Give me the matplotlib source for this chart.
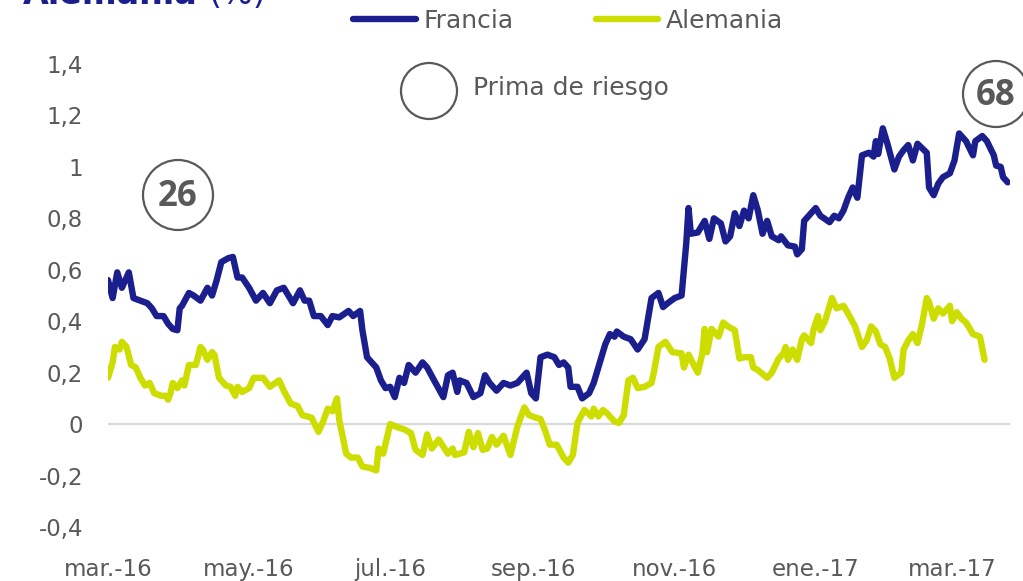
# module imports
import matplotlib
matplotlib.use("Agg")
import matplotlib.pyplot as plt
import numpy as np
import pandas as pd

# item imports
from matplotlib.patches import Ellipse
from matplotlib.ticker import FuncFormatter

# constants
W, H = 1023, 581
BLUE = "#1b1f8e"
GREEN = "#cedd00"
GREY = "#595959"
START = pd.Timestamp("2016-03-01")

# days since 1 March 2016 and spread (%) for France
fr_days = [0, 2, 4, 6, 9, 11, 14, 17, 19, 21, 24, 26, 28, 30, 31, 32, 35, 37, 40, 43,
           45, 47, 49, 52, 54, 56, 58, 61, 64, 67, 70, 73, 76, 80, 83, 85, 87, 89, 92, 95,
           97, 100, 104, 106, 109, 110, 112, 116, 118, 120, 122, 124, 126, 128, 130, 133, 136, 138, 141, 145,
           147, 149, 151, 152, 155, 158, 161, 163, 165, 168, 171, 174, 177, 181, 183, 185, 187, 190, 193, 195,
           197, 199, 200, 203, 205, 208, 210, 213, 215, 217, 219, 220, 223, 226, 229, 232, 235, 238, 240, 242,
           245, 248, 250, 251, 252, 255, 258, 260, 262, 265, 267, 269, 271, 273, 275, 277, 279, 281, 283, 285,
           287, 290, 291, 294, 297, 298, 300, 301, 304, 306, 308, 312, 314, 316, 318, 320, 322, 324, 326, 329,
           331, 332, 333, 335, 337, 340, 342, 344, 346, 348, 350, 354, 355, 357, 359, 361, 364, 366, 368, 371,
           374, 375, 378, 380, 383, 384, 386, 387, 389]
fr_vals = [0.56, 0.49, 0.59, 0.53, 0.59, 0.49, 0.48, 0.47, 0.45, 0.42, 0.42, 0.39, 0.37, 0.365, 0.45, 0.46, 0.51, 0.50, 0.48, 0.53,
           0.50, 0.56, 0.63, 0.645, 0.65, 0.57, 0.57, 0.53, 0.48, 0.51, 0.47, 0.52, 0.53, 0.47, 0.52, 0.48, 0.48, 0.42, 0.42, 0.385,
           0.42, 0.415, 0.44, 0.42, 0.44, 0.365, 0.26, 0.22, 0.17, 0.14, 0.145, 0.105, 0.18, 0.16, 0.23, 0.20, 0.24, 0.22, 0.17, 0.105,
           0.19, 0.20, 0.125, 0.17, 0.16, 0.105, 0.12, 0.19, 0.16, 0.13, 0.16, 0.15, 0.16, 0.20, 0.12, 0.10, 0.26, 0.27, 0.26, 0.23,
           0.24, 0.22, 0.145, 0.145, 0.10, 0.12, 0.16, 0.25, 0.31, 0.35, 0.34, 0.36, 0.34, 0.33, 0.29, 0.33, 0.49, 0.51, 0.455, 0.47,
           0.49, 0.50, 0.70, 0.84, 0.74, 0.745, 0.79, 0.72, 0.80, 0.78, 0.71, 0.73, 0.82, 0.77, 0.83, 0.80, 0.89, 0.83, 0.74, 0.79,
           0.73, 0.715, 0.73, 0.695, 0.69, 0.66, 0.68, 0.79, 0.82, 0.84, 0.81, 0.785, 0.81, 0.80, 0.83, 0.88, 0.92, 0.88, 1.045, 1.055,
           1.04, 1.10, 1.05, 1.15, 1.09, 0.99, 1.04, 1.065, 1.085, 1.025, 1.09, 1.055, 0.92, 0.89, 0.935, 0.96, 0.975, 1.025, 1.13, 1.10,
           1.045, 1.10, 1.12, 1.10, 1.045, 1.005, 1.00, 0.96, 0.94]

# days since 1 March 2016 and spread (%) for Germany
de_days = [0, 2, 3, 5, 6, 8, 10, 12, 14, 16, 18, 20, 23, 25, 26, 27, 28, 30, 32, 33,
           35, 38, 40, 41, 43, 45, 46, 48, 51, 53, 55, 56, 58, 61, 63, 65, 67, 70, 74, 76,
           79, 82, 84, 88, 91, 93, 95, 97, 99, 100, 103, 105, 108, 110, 113, 116, 117, 119, 122, 126,
           128, 131, 133, 136, 138, 140, 143, 147, 149, 150, 154, 156, 158, 160, 162, 164, 166, 168, 171, 174,
           177, 180, 182, 185, 187, 189, 191, 194, 197, 199, 201, 203, 206, 209, 210, 212, 214, 216, 219, 221,
           223, 225, 227, 229, 232, 235, 236, 238, 241, 244, 248, 249, 251, 255, 257, 258, 259, 261, 264, 266,
           268, 271, 273, 275, 278, 279, 281, 285, 287, 290, 292, 293, 294, 296, 298, 300, 301, 304, 305, 307,
           308, 310, 313, 315, 318, 320, 323, 326, 328, 330, 332, 334, 336, 338, 340, 343, 344, 346, 348, 350,
           352, 354, 355, 357, 359, 361, 364, 365, 367, 369, 371, 374, 377, 379]
de_vals = [0.18, 0.24, 0.30, 0.29, 0.32, 0.30, 0.23, 0.22, 0.18, 0.15, 0.16, 0.12, 0.11, 0.11, 0.095, 0.12, 0.16, 0.14, 0.17, 0.15,
           0.23, 0.23, 0.30, 0.29, 0.25, 0.28, 0.27, 0.18, 0.15, 0.145, 0.11, 0.145, 0.125, 0.14, 0.18, 0.18, 0.18, 0.145, 0.17, 0.13,
           0.08, 0.07, 0.035, 0.025, -0.03, 0.01, 0.06, 0.05, 0.10, 0.015, -0.115, -0.13, -0.13, -0.165, -0.17, -0.18, -0.095, -0.115, 0.0, -0.015,
           -0.02, -0.035, -0.10, -0.12, -0.04, -0.095, -0.06, -0.115, -0.095, -0.12, -0.11, -0.03, -0.09, -0.035, -0.10, -0.095, -0.05, -0.08, -0.045, -0.12,
           -0.01, 0.065, 0.035, 0.025, 0.02, -0.025, -0.08, -0.08, -0.13, -0.15, -0.12, 0.005, 0.055, 0.03, 0.06, 0.03, 0.055, 0.04, 0.01, 0.005,
           0.035, 0.17, 0.18, 0.14, 0.145, 0.16, 0.20, 0.30, 0.32, 0.28, 0.275, 0.22, 0.27, 0.20, 0.275, 0.37, 0.28, 0.37, 0.34, 0.395,
           0.38, 0.365, 0.255, 0.26, 0.26, 0.22, 0.21, 0.18, 0.20, 0.255, 0.275, 0.30, 0.25, 0.29, 0.25, 0.33, 0.345, 0.315, 0.365, 0.42,
           0.365, 0.40, 0.49, 0.45, 0.46, 0.43, 0.38, 0.30, 0.325, 0.38, 0.36, 0.31, 0.30, 0.255, 0.18, 0.20, 0.29, 0.325, 0.35, 0.315,
           0.39, 0.49, 0.475, 0.41, 0.45, 0.43, 0.46, 0.40, 0.435, 0.41, 0.395, 0.35, 0.34, 0.25]

month_ticks = ["2016-03-01", "2016-05-01", "2016-07-01", "2016-09-01",
               "2016-11-01", "2017-01-01", "2017-03-01"]
month_labels = ["mar.-16", "may.-16", "jul.-16", "sep.-16",
                "nov.-16", "ene.-17", "mar.-17"]
y_ticks = [-0.4, -0.2, 0, 0.2, 0.4, 0.6, 0.8, 1.0, 1.2, 1.4]


def circle(fig, cx, cy, r):
    # circle given in pixels, drawn in figure coords
    e = Ellipse((cx / W, 1 - cy / H), 2 * r / W, 2 * r / H,
                transform=fig.transFigure, fill=False,
                edgecolor=GREY, linewidth=1.6, clip_on=False)
    fig.add_artist(e)


if __name__ == "__main__":
    plt.rcParams["font.family"] = ["DejaVu Sans"]

    fr_dates = START + pd.to_timedelta(fr_days, unit="D")
    de_dates = START + pd.to_timedelta(de_days, unit="D")

    fig = plt.figure(figsize=(W / 100, H / 100), dpi=100)
    ax = fig.add_axes([108 / W, 1 - 527 / H, (1010 - 108) / W, (527 - 64) / H])

    # zero line
    ax.axhline(0, color="#d9d9d9", linewidth=1.6, zorder=1)

    # series
    ax.plot(fr_dates, fr_vals, color=BLUE, linewidth=4.6,
            solid_joinstyle="round", solid_capstyle="round", label="Francia", zorder=3)
    ax.plot(de_dates, de_vals, color=GREEN, linewidth=4.6,
            solid_joinstyle="round", solid_capstyle="round", label="Alemania", zorder=2)

    # axes
    ax.set_ylim(-0.4, 1.4)
    ax.set_xlim(START, START + pd.Timedelta(days=390))
    ax.set_yticks(y_ticks)
    ax.yaxis.set_major_formatter(FuncFormatter(lambda v, p: f"{round(v, 1):g}".replace(".", ",")))
    ax.set_xticks(pd.to_datetime(month_ticks))
    ax.set_xticklabels(month_labels)
    ax.tick_params(axis="both", length=0, labelsize=16.5, labelcolor=GREY)
    ax.tick_params(axis="y", pad=18)
    ax.tick_params(axis="x", pad=22)
    for s in ax.spines.values():
        s.set_visible(False)

    # legend
    fig.legend(loc="center left", bbox_to_anchor=(353 / W, 1 - 21 / H), ncol=2,
               frameon=False, fontsize=18, labelcolor=GREY, handlelength=2.5,
               handletextpad=0.3, columnspacing=3.3, borderpad=0, borderaxespad=0)

    # title, cut off by the top edge as in the source
    fig.text(23 / W, 1 - 4 / H, "Alemania", fontsize=24, fontweight="bold",
             color=BLUE, va="baseline", ha="left")
    fig.text(208 / W, 1 - 4 / H, "(%)", fontsize=24, color=BLUE,
             va="baseline", ha="left")

    # circled annotations
    circle(fig, 429, 91, 28)
    fig.text(473 / W, 1 - 88 / H, "Prima de riesgo", fontsize=18, color=GREY,
             va="center", ha="left")
    circle(fig, 178, 195, 35)
    fig.text(178 / W, 1 - 197 / H, "26", fontsize=25, fontweight="bold",
             family="Open Sans", color=GREY, va="center", ha="center")
    circle(fig, 996, 94, 33)
    fig.text(996 / W, 1 - 96 / H, "68", fontsize=25, fontweight="bold",
             family="Open Sans", color=GREY, va="center", ha="center")

    fig.savefig("out.png", dpi=100)
